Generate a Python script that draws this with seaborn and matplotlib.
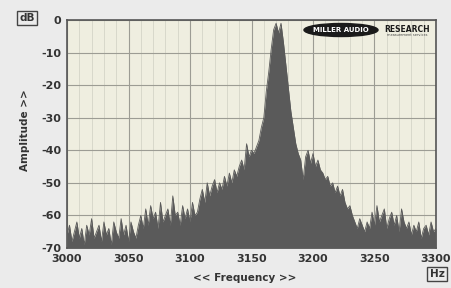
import numpy as np
import pandas as pd
import seaborn as sns
import matplotlib
matplotlib.use("Agg")
import matplotlib.pyplot as plt
from matplotlib.patches import Ellipse

# ---- data ----
freq_start, freq_stop, freq_step = 3000, 3300, 2
amplitude_db = [
    -66, -63, -68, -65, -62, -67, -64, -69, -63, -66,
    -61, -67, -65, -63, -68, -62, -66, -64, -69, -62,
    -65, -67, -61, -66, -63, -68, -62, -65, -67, -63,
    -60, -64, -58, -63, -57, -61, -59, -64, -56, -62, -60, -58, -63, -54, -60,
    -59, -63, -57, -61, -58, -62, -56, -60, -59, -55,
    -52, -56, -50, -54, -51, -49, -53, -50, -52, -48, -51, -47, -50, -46, -48,
    -45, -43, -46, -38, -42, -40, -41, -39,
    -37, -33, -30, -22, -16, -9, -3, -1, -4, -1, -7, -14, -21, -28, -33, -38,
    -41, -43, -49, -42, -40, -44, -41, -45, -43, -46, -47, -49, -48, -51, -50, -53, -51, -54, -52,
    -56, -58, -57, -60, -62, -64, -61, -63, -65, -62, -64,
    -59, -63, -57, -62, -60, -58, -64, -61, -59, -63, -60, -65, -58, -62,
    -64, -62, -66, -63, -65, -62, -67, -64, -63, -66, -62, -65, -64,
]
freq_hz = np.arange(freq_start, freq_stop + 1, freq_step)
x_ticks = [3000, 3050, 3100, 3150, 3200, 3250, 3300]
y_ticks = [0, -10, -20, -30, -40, -50, -60, -70]

df = pd.DataFrame({"freq": freq_hz, "amp": amplitude_db})

sns.set_style("white")
plt.rcParams["font.family"] = ["DejaVu Sans"]
plt.rcParams["axes.unicode_minus"] = False

fig = plt.figure(figsize=(4.51, 2.88), dpi=100, facecolor="#ebebeb")
ax = fig.add_axes([0.1486, 0.1389, 0.8181, 0.7917])
ax.set_facecolor("#efeee0")

fill_col = "#5a5a5a"
ax.fill_between(df["freq"], -70, df["amp"], color=fill_col, linewidth=0, zorder=3)
sns.lineplot(data=df, x="freq", y="amp", ax=ax, color=fill_col, linewidth=0.6, zorder=3)

ax.set_xlim(3000, 3300)
ax.set_ylim(-70, 0)
ax.set_xticks(x_ticks)
ax.set_yticks(y_ticks)
ax.set_xticks(np.arange(3000, 3301, 10), minor=True)
ax.grid(which="major", color="#9c9c94", linewidth=0.8, zorder=1)
ax.grid(which="minor", axis="x", color="#d4d4c8", linewidth=0.6, zorder=1)
ax.set_axisbelow(True)
ax.set_xlabel("")
ax.set_ylabel("")

for s in ax.spines.values():
    s.set_color("#555555")
    s.set_linewidth(1.2)

ax.tick_params(axis="both", which="major", length=3, width=0.8, color="#555555",
               labelsize=8, labelcolor="#333333", pad=1)
ax.tick_params(axis="x", which="minor", length=2, width=0.6, color="#777777")
for lab in ax.get_xticklabels() + ax.get_yticklabels():
    lab.set_fontweight("bold")

fig.text(245 / 451, 1 - 278 / 288, "<< Frequency >>", fontsize=7.5, fontweight="bold",
         color="#333333", ha="center", va="center")
fig.text(25 / 451, 1 - 130 / 288, "Amplitude >>", fontsize=7.5, fontweight="bold",
         color="#333333", ha="center", va="center", rotation=90)

# unit boxes
fig.text(27 / 451, 1 - 18 / 288, "dB", fontsize=7.5, fontweight="bold", color="#333333",
         ha="center", va="center",
         bbox=dict(boxstyle="square,pad=0.2", fc="#ebebeb", ec="#444444", lw=1))
fig.text(437 / 451, 1 - 274 / 288, "Hz", fontsize=7.5, fontweight="bold", color="#333333",
         ha="center", va="center",
         bbox=dict(boxstyle="square,pad=0.2", fc="#ebebeb", ec="#444444", lw=1))

# logo
ell = Ellipse((341 / 451, 1 - 30 / 288), 74 / 451, 13 / 288, transform=fig.transFigure,
              fc="#1a1a1a", ec="#1a1a1a", zorder=5)
fig.patches.append(ell)
fig.text(341 / 451, 1 - 30 / 288, "MILLER AUDIO", fontsize=5, fontweight="bold",
         color="white", ha="center", va="center", zorder=6)
fig.text(407 / 451, 1 - 29 / 288, "RESEARCH", fontsize=5.5, fontweight="bold",
         color="#1a1a1a", ha="center", va="center", zorder=6)
fig.text(407 / 451, 1 - 35 / 288, "measurement services", fontsize=2.5,
         color="#444444", ha="center", va="center", zorder=6)

fig.savefig("out.png", dpi=100, facecolor=fig.get_facecolor())
